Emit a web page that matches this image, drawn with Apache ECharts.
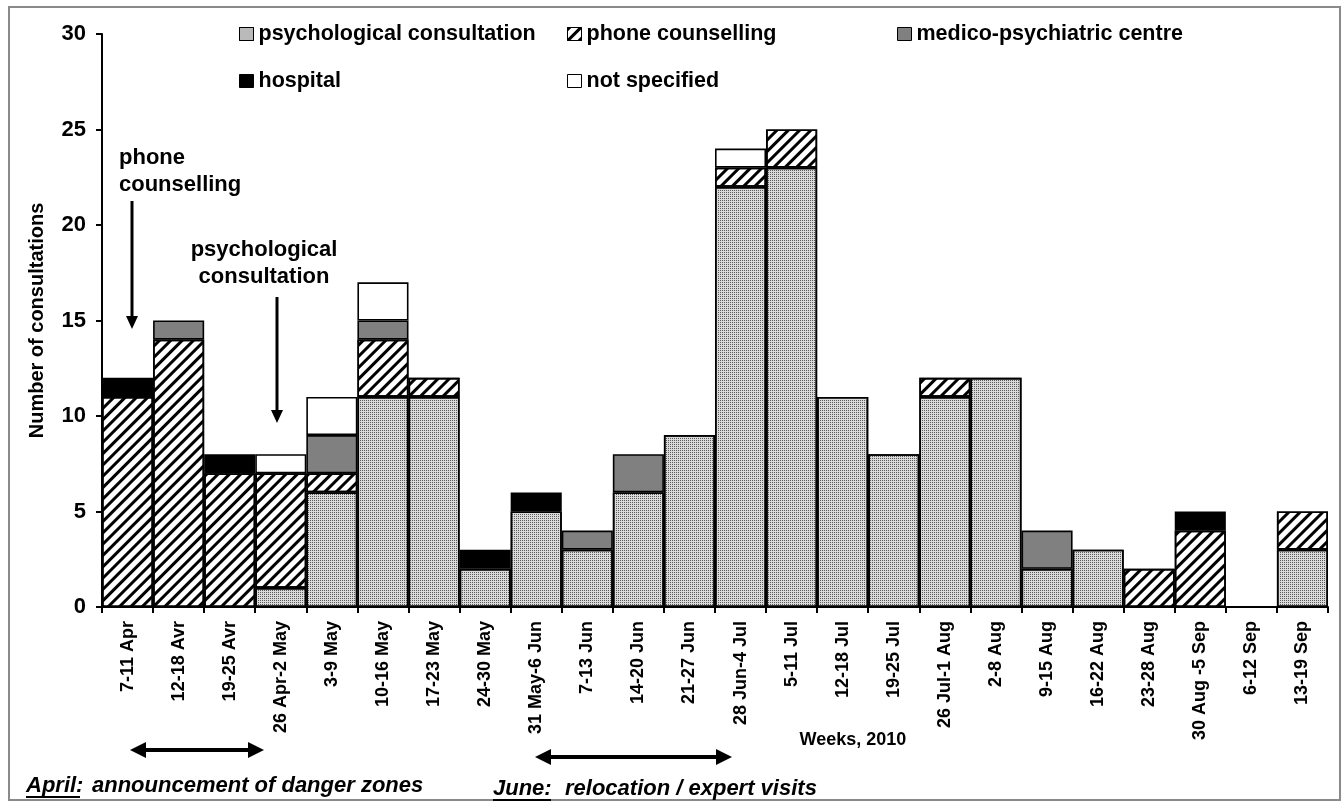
<!DOCTYPE html>
<html>
<head>
<meta charset="utf-8">
<script src="https://cdn.jsdelivr.net/npm/echarts@6/dist/echarts.min.js"></script>
<style>html,body{margin:0;padding:0;background:#fff}#c{width:1343px;height:803px}</style>
</head>
<body>
<div id="c"></div>
<script>
const weeks = ['7-11 Apr','12-18 Avr','19-25 Avr','26 Apr-2 May','3-9 May','10-16 May','17-23 May','24-30 May','31 May-6 Jun','7-13 Jun','14-20 Jun','21-27 Jun','28 Jun-4 Jul','5-11 Jul','12-18 Jul','19-25 Jul','26 Jul-1 Aug','2-8 Aug','9-15 Aug','16-22 Aug','23-28 Aug','30 Aug -5 Sep','6-12 Sep','13-19 Sep'];
const psychological = [0,0,0,1,6,11,11,2,5,3,6,9,22,23,11,8,11,12,2,3,0,0,0,3];
const phone =         [11,14,7,6,1,3,1,0,0,0,0,0,1,2,0,0,1,0,0,0,2,4,0,2];
const medico =        [0,1,0,0,2,1,0,0,0,1,2,0,0,0,0,0,0,0,2,0,0,0,0,0];
const hospital =      [1,0,1,0,0,0,0,1,1,0,0,0,0,0,0,0,0,0,0,0,0,1,0,0];
const notSpecified =  [0,0,0,1,2,2,0,0,0,0,0,0,1,0,0,0,0,0,0,0,0,0,0,0];
const yTicks = [0,5,10,15,20,25,30];

const names = ['psychological consultation','phone counselling','medico-psychiatric centre','hospital','not specified'];
const values = [psychological, phone, medico, hospital, notSpecified];
const styles = [
  {color:'#dadada', decal:{symbol:'rect', symbolSize:1, dashArrayX:[1,1], dashArrayY:[1,1], color:'#5a5a5a'}},
  {color:'#ffffff', decal:{symbol:'rect', symbolSize:1, rotation:-Math.PI/4, dashArrayX:[1,0], dashArrayY:[2.5,4.5], color:'#000000'}},
  {color:'#808080'},
  {color:'#000000'},
  {color:'#ffffff'}
];

const series = names.map((n,i)=>({
  name:n, type:'bar', stack:'total', barCategoryGap:'0%', barGap:'0%',
  itemStyle:Object.assign({borderColor:'#000', borderWidth:1.6}, styles[i]),
  emphasis:{disabled:true},
  data: values[i].map(v => v === 0 ? '-' : v)
}));

const legendPos = [[239,23],[567,23],[897,23],[239,70],[567,70]];
const legends = names.map((n,i)=>({
  data:[n], left:legendPos[i][0], top:legendPos[i][1], padding:0,
  icon:'rect', itemWidth:14, itemHeight:13, selectedMode:false,
  itemStyle:{borderColor:'#000', borderWidth:1},
  textStyle:{fontFamily:'Liberation Sans', fontWeight:'bold', fontSize:21.5, color:'#000'}
}));

const bold = 'bold 22px "Liberation Sans"';
const narrowBI = 'italic bold 22px "Liberation Sans"';
function tri(points){return {type:'polygon', shape:{points:points}, style:{fill:'#000'}};}

const chart = echarts.init(document.getElementById('c'));
chart.setOption({
  animation:false,
  backgroundColor:'#fff',
  grid:{left:102, right:15, top:34, bottom:196, containLabel:false},
  legend:legends,
  xAxis:{
    type:'category', data:weeks,
    axisLine:{lineStyle:{color:'#000', width:2}},
    axisTick:{show:true, length:6, lineStyle:{color:'#000', width:2}},
    axisLabel:{rotate:90, interval:0, margin:14, color:'#000', fontFamily:'Liberation Sans', fontWeight:'bold', fontSize:18}
  },
  yAxis:{
    type:'value', min:yTicks[0], max:yTicks[yTicks.length-1], interval:5,
    name:'Number of consultations', nameLocation:'middle', nameGap:55,
    nameTextStyle:{fontFamily:'Liberation Sans', fontWeight:'bold', fontSize:20, color:'#000'},
    axisLine:{show:true, lineStyle:{color:'#000', width:2}},
    axisTick:{show:true, length:6, lineStyle:{color:'#000', width:2}},
    axisLabel:{margin:16, color:'#000', fontFamily:'Liberation Sans', fontWeight:'bold', fontSize:22},
    splitLine:{show:false}
  },
  series:series,
  graphic:[
    {type:'rect', shape:{x:9, y:7, width:1331, height:793}, style:{fill:'none', stroke:'#8a8a8a', lineWidth:2}, silent:true},
    {type:'text', left:119, top:144, style:{text:'phone\ncounselling', font:bold, fill:'#000', lineHeight:27}},
    {type:'line', shape:{x1:132, y1:201, x2:132, y2:318}, style:{stroke:'#000', lineWidth:3}},
    tri([[126,316],[138,316],[132,329]]),
    {type:'text', x:264, y:236, style:{text:'psychological\nconsultation', font:bold, fill:'#000', lineHeight:27, align:'center'}},
    {type:'line', shape:{x1:277, y1:297, x2:277, y2:412}, style:{stroke:'#000', lineWidth:3}},
    tri([[271,410],[283,410],[277,423]]),
    {type:'line', shape:{x1:142, y1:750, x2:252, y2:750}, style:{stroke:'#000', lineWidth:4}},
    tri([[130,750],[146,742],[146,758]]),
    tri([[264,750],[248,742],[248,758]]),
    {type:'line', shape:{x1:547, y1:757, x2:720, y2:757}, style:{stroke:'#000', lineWidth:4}},
    tri([[535,757],[551,749],[551,765]]),
    tri([[732,757],[716,749],[716,765]]),
    {type:'text', x:853, y:740, style:{text:'Weeks, 2010', font:'bold 18px "Liberation Sans"', fill:'#000', align:'center', verticalAlign:'middle'}},
    {type:'text', x:26, y:786, style:{text:'April:', font:narrowBI, fill:'#000', verticalAlign:'middle'}},
    {type:'line', shape:{x1:26, y1:797, x2:80, y2:797}, style:{stroke:'#000', lineWidth:2}},
    {type:'text', x:92, y:786, style:{text:'announcement of danger zones', font:narrowBI, fill:'#000', verticalAlign:'middle'}},
    {type:'text', x:493, y:789, style:{text:'June:', font:narrowBI, fill:'#000', verticalAlign:'middle'}},
    {type:'line', shape:{x1:493, y1:800, x2:551, y2:800}, style:{stroke:'#000', lineWidth:2}},
    {type:'text', x:565, y:789, style:{text:'relocation / expert visits', font:narrowBI, fill:'#000', verticalAlign:'middle'}}
  ]
});
</script>
</body>
</html>
